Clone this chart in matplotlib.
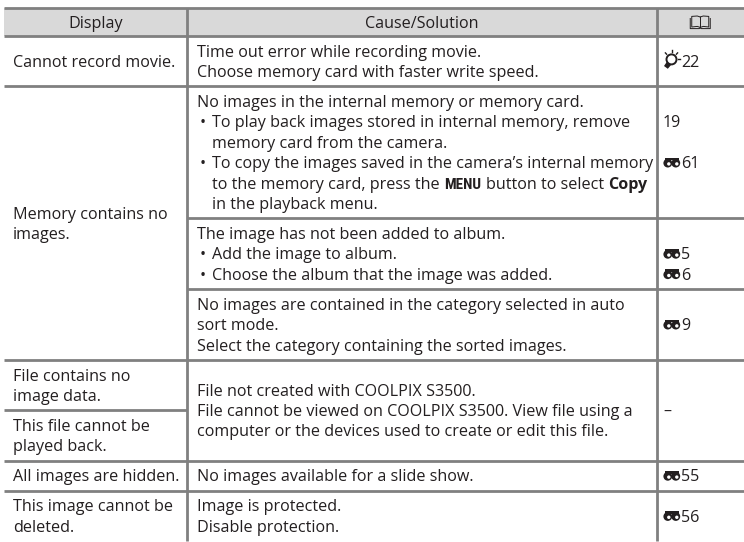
import re
import matplotlib
matplotlib.use('Agg')
import matplotlib.pyplot as plt
from matplotlib import font_manager
from matplotlib.patches import Rectangle, Circle, Polygon

names = {f.name for f in font_manager.fontManager.ttflist}
body_font = 'Open Sans' if 'Open Sans' in names else 'DejaVu Sans'

# narrow bold face for the MENU button label
menu_font, menu_scale = body_font, 0.8
for fam, sc in (('Roboto Condensed', 0.95), ('Liberation Sans Narrow', 0.95),
                ('DejaVu Sans Condensed', 0.85), ('Roboto', 0.88)):
    if fam in names:
        menu_font, menu_scale = fam, sc
        break

# ---- table content ----
headers = ['Display', 'Cause/Solution']

display_msgs = [
    'Cannot record movie.',
    'Memory contains no\nimages.',
    'File contains no\nimage data.',
    'This file cannot be\nplayed back.',
    'All images are hidden.',
    'This image cannot be\ndeleted.',
]

# "* " = bullet, "  " = hanging indent, {MENU} = button, **x** = bold
causes = [
    ['Time out error while recording movie.',
     'Choose memory card with faster write speed.'],
    ['No images in the internal memory or memory card.',
     '* To play back images stored in internal memory, remove',
     '  memory card from the camera.',
     '* To copy the images saved in the camera\u2019s internal memory',
     '  to the memory card, press the {MENU} button to select **Copy**',
     '  in the playback menu.'],
    ['The image has not been added to album.',
     '* Add the image to album.',
     '* Choose the album that the image was added.'],
    ['No images are contained in the category selected in auto',
     'sort mode.',
     'Select the category containing the sorted images.'],
    ['File not created with COOLPIX S3500.',
     'File cannot be viewed on COOLPIX S3500. View file using a',
     'computer or the devices used to create or edit this file.'],
    ['No images available for a slide show.'],
    ['Image is protected.',
     'Disable protection.'],
]

# page references: (line position in cell, icon, page)
refs = [
    [(0.5, 'tip', '22')],
    [(1, None, '19'), (3, 'bino', '61')],
    [(1, 'bino', '5'), (2, 'bino', '6')],
    [(1, 'bino', '9')],
    [(1, None, '\u2013')],
    [(0, 'bino', '55')],
    [(0.5, 'bino', '56')],
]

# which display cells sit next to which cause cells
groups = [([0], [0]), ([1], [1, 2, 3]), ([2, 3], [4]), ([4], [5]), ([5], [6])]

# ---- layout ----
FS = 11.6
LINE = 20.4
PAD = 9.6
BASE = 5.6
TOP = 8
HEAD_H = 28
X0, X1, X2, X3 = 4, 186.5, 656.5, 744
GRID = '#808080'
INK = '#231f20'

fig = plt.figure(figsize=(7.44, 5.42), dpi=100)
ax = fig.add_axes([0, 0, 1, 1])
ax.set_xlim(0, 744)
ax.set_ylim(542, 0)
ax.axis('off')
renderer = fig.canvas.get_renderer()


def width_of(s, **kw):
    t = ax.text(0, 0, s, **kw)
    w = t.get_window_extent(renderer=renderer).width
    t.remove()
    return w


SPACE = width_of('a a', fontsize=FS, family=body_font) - width_of('aa', fontsize=FS, family=body_font)


def put_line(x, yc, line):
    if line.startswith('* '):
        ax.text(x + 2.5, yc + BASE, '\u2022', fontsize=FS, family=body_font, color=INK, va='baseline')
        line = line[2:]
        x += 15.5
    elif line.startswith('  '):
        line = line[2:]
        x += 15.5
    parts = [p for p in re.split(r'(\{MENU\}|\*\*[^*]+\*\*)', line) if p]
    for p in parts:
        kw = dict(fontsize=FS, family=body_font, weight='normal')
        if p == '{MENU}':
            s = 'MENU'
            kw = dict(fontsize=FS * menu_scale, family=menu_font, weight='bold')
        elif p.startswith('**'):
            s = p[2:-2]
            kw['weight'] = 'bold'
        else:
            s = p
        lead = len(s) - len(s.lstrip(' '))
        trail = len(s) - len(s.rstrip(' '))
        x += lead * SPACE
        t = ax.text(x, yc + BASE, s.strip(' '), color=INK, va='baseline', **kw)
        x += t.get_window_extent(renderer=renderer).width + trail * SPACE
    return x


def binoculars(x, yc):
    ax.add_patch(Rectangle((x + 1.5, yc - 5.0), 14.5, 2.8, color=INK, lw=0))
    for cx in (x + 4.8, x + 12.8):
        ax.add_patch(Circle((cx, yc + 0.5), 4.4, color=INK, lw=0))
        ax.add_patch(Circle((cx + 1.0, yc + 1.3), 1.7, color='white', lw=0))


def bulb(x, yc):
    ax.add_patch(Circle((x + 8.5, yc - 1.8), 5.0, fc='white', ec=INK, lw=1.4))
    ax.add_patch(Polygon([(x + 1.0, yc + 4.8), (x + 4.0, yc + 0.4), (x + 8.2, yc + 3.6),
                          (x + 4.8, yc + 7.6)], closed=True, color=INK, lw=0))
    for (a, b), (c, d) in [((x + 8.5, yc - 9.0), (x + 8.5, yc - 11.0)),
                           ((x + 3.6, yc - 7.0), (x + 2.4, yc - 8.3)),
                           ((x + 13.4, yc - 7.0), (x + 14.6, yc - 8.3)),
                           ((x + 15.2, yc - 1.8), (x + 17.0, yc - 1.8))]:
        ax.plot([a, c], [b, d], color=INK, lw=1.0)


def page_ref(x, yc, icon, page):
    if icon == 'bino':
        binoculars(x, yc)
        x += 18
    elif icon == 'tip':
        bulb(x, yc)
        x += 18.5
    ax.text(x, yc + BASE, page, fontsize=FS, family=body_font, color=INK, va='baseline')


def book(cx, cy):
    kw = dict(color=INK, lw=0.7)
    ax.plot([cx, cx - 3, cx - 8.5, cx - 8.5, cx - 3, cx],
            [cy - 5.0, cy - 6.0, cy - 5.6, cy + 5.0, cy + 4.4, cy + 5.4], **kw)
    ax.plot([cx, cx + 3, cx + 8.5, cx + 8.5, cx + 3, cx],
            [cy - 5.0, cy - 6.0, cy - 5.6, cy + 5.0, cy + 4.4, cy + 5.4], **kw)
    ax.plot([cx, cx], [cy - 5.0, cy + 5.4], **kw)
    ax.plot([cx - 10, cx - 10, cx - 1, cx, cx + 1, cx + 10, cx + 10],
            [cy - 3.5, cy + 6.6, cy + 6.6, cy + 6.0, cy + 6.6, cy + 6.6, cy - 3.5], **kw)


# header band
ax.add_patch(Rectangle((X0, TOP), X3 - X0, HEAD_H, fc='#d9d9d9', lw=0))
ax.text((X0 + X1) / 2, TOP + HEAD_H / 2 + BASE, headers[0], fontsize=FS, family=body_font,
        color=INK, ha='center', va='baseline')
ax.text((X1 + X2) / 2, TOP + HEAD_H / 2 + BASE, headers[1], fontsize=FS, family=body_font,
        color=INK, ha='center', va='baseline')
book((X2 + X3) / 2, TOP + HEAD_H / 2)

hlines = [(TOP, X0, X3), (TOP + HEAD_H, X0, X3)]

y = TOP + HEAD_H
for gi, (lefts, rights) in enumerate(groups):
    hl = [(display_msgs[i].count('\n') + 1) * LINE + PAD for i in lefts]
    hr = [len(causes[j]) * LINE + PAD for j in rights]
    hb = max(sum(hl), sum(hr))
    hl = [h * hb / sum(hl) for h in hl]
    hr = [h * hb / sum(hr) for h in hr]

    yy = y
    for i, h in zip(lefts, hl):
        lines = display_msgs[i].split('\n')
        for k, s in enumerate(lines):
            yc = yy + h / 2 + (k - (len(lines) - 1) / 2) * LINE
            ax.text(13, yc + BASE, s, fontsize=FS, family=body_font, color=INK, va='baseline')
        yy += h
        if yy < y + hb - 0.5:
            hlines.append((yy, X0, X1))

    yy = y
    for j, h in zip(rights, hr):
        n = len(causes[j])
        for k, line in enumerate(causes[j]):
            yc = yy + h / 2 + (k - (n - 1) / 2) * LINE
            put_line(197, yc, line)
        for pos, icon, page in refs[j]:
            yc = yy + h / 2 + (pos - (n - 1) / 2) * LINE
            page_ref(663, yc, icon, page)
        yy += h
        if yy < y + hb - 0.5:
            hlines.append((yy, X1, X3))

    y += hb
    if gi < len(groups) - 1:
        hlines.append((y, X0, X3))

for yl, xa, xb in hlines:
    ax.plot([xa, xb], [yl, yl], color=GRID, lw=2.0, solid_capstyle='butt')
for xv in (X1, X2):
    ax.plot([xv, xv], [TOP, y], color=GRID, lw=2.0, solid_capstyle='butt')

fig.savefig('out.png', dpi=100)
